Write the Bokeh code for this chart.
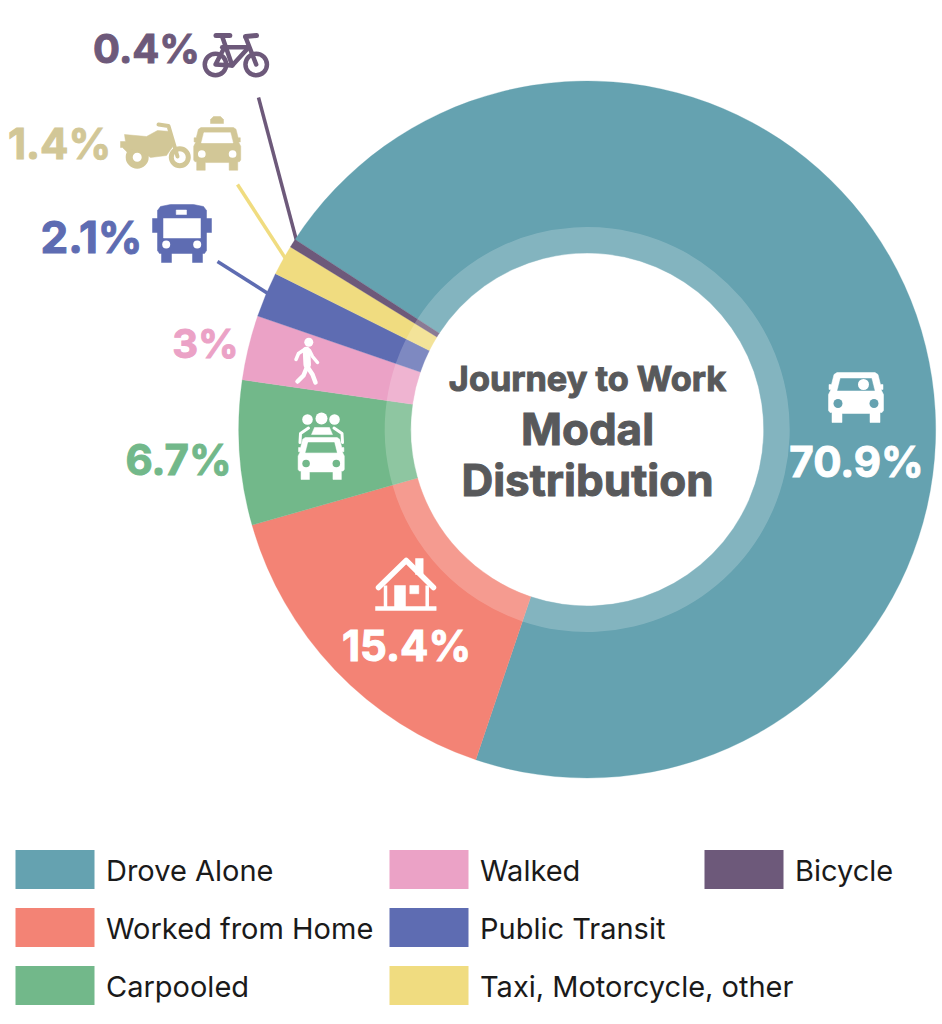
from bokeh.plotting import figure
from bokeh.models import Range1d, ColumnDataSource
from bokeh.core.properties import value
from bokeh.embed import file_html
from bokeh.resources import INLINE
import math

categories = ["Drove Alone", "Worked from Home", "Carpooled", "Walked", "Public Transit", "Taxi, Motorcycle, other", "Bicycle"]
shares = [70.9, 15.4, 6.7, 3.0, 2.1, 1.4, 0.4]
share_labels = ["70.9%", "15.4%", "6.7%", "3%", "2.1%", "1.4%", "0.4%"]
colors = ["#65A2B0", "#F38375", "#72B88A", "#EBA2C6", "#5E6CB2", "#F0DC80", "#6D597A"]
label_colors = ["#FFFFFF", "#FFFFFF", "#72B88A", "#EBA2C6", "#5E6CB2", "#D2C797", "#6D597A"]
title_lines = ["Journey to Work", "Modal", "Distribution"]

W, H = 942, 1024
p = figure(width=W, height=H, output_backend="svg", toolbar_location=None,
           x_range=Range1d(0, W), y_range=Range1d(0, H), min_border=0, outline_line_color=None)
p.axis.visible = False
p.grid.visible = False
Y = lambda y: H - y

CX, CY, RO, RM, RI = 586.7, 429, 348.5, 202.5, 176.5
START_DEG = 303.4  # clockwise from north
def rad(cw_deg):
    return math.radians(90 - cw_deg)
starts, ends = [], []
acc = START_DEG
for s in shares:
    starts.append(rad(acc))
    acc += s / 100 * 360
    ends.append(rad(acc))
# the published shares add to 99.9: the first slice closes the ring
starts[0] = ends[-1] - 2 * math.pi
src = ColumnDataSource(dict(x=[CX]*7, y=[Y(CY)]*7, s=starts, e=ends, c=colors))

def line(pts, c, w=3.5, cap="round"):
    p.line([a for a, _ in pts], [Y(b) for _, b in pts], line_color=c, line_width=w, line_cap=cap, line_join="round")
def poly(pts, c):
    p.patch([a for a, _ in pts], [Y(b) for _, b in pts], fill_color=c, line_color=c, line_width=0.5)
def circ(x, y, r, c):
    p.circle([x], [Y(y)], radius=r, fill_color=c, line_color=None)
def rect(x0, y0, x1, y1, c):
    poly([(x0, y0), (x1, y0), (x1, y1), (x0, y1)], c)
def ring(x, y, r, w, c):
    p.annulus([x], [Y(y)], inner_radius=r-w, outer_radius=r, fill_color=c, line_color=None)

# leaders
line([(258, 97), (296, 240)], colors[6], 3.5, "butt")
line([(237, 184), (285, 258)], colors[5], 3.5, "butt")
line([(217, 261), (269, 294)], colors[4], 3.5, "butt")

p.annular_wedge("x", "y", inner_radius=RI, outer_radius=RO, start_angle="e", end_angle="s", source=src,
                fill_color="c", line_color="c", line_width=0.3)
p.annular_wedge("x", "y", inner_radius=RI, outer_radius=RM, start_angle="e", end_angle="s", source=src,
                fill_color="#FFFFFF", fill_alpha=0.2, line_color=None)

def car(cx, top, s, fg, bg, window=True):
    body = [(-19,0),(19,0),(22,2),(24.5,12),(27,12),(27,17),(25,17),(27.5,22),(27.5,38),(26,40),(24,40),(24,50),(14,50),
            (14,41),(-14,41),(-14,50),(-24,50),(-24,40),(-26,40),(-27.5,38),(-27.5,22),(-25,17),(-27,17),(-27,12),(-24.5,12),(-22,2)]
    poly([(cx + a*s, top + b*s) for a, b in body], fg)
    if window:
        poly([(cx + a*s, top + b*s) for a, b in [(-15.5,6),(15.5,6),(18.5,18),(-18.5,18)]], bg)
    circ(cx - 18*s, top + 31*s, 4.5*s, bg)
    circ(cx + 18*s, top + 31*s, 4.5*s, bg)

WHITE = "#FFFFFF"
# drove alone
car(855.5, 372, 1.0, WHITE, colors[0])
circ(863, 384, 5.5, WHITE)
# carpool
car(320.7, 437, 0.84, WHITE, colors[2])
circ(307, 419, 5.3, WHITE); circ(321, 418, 6, WHITE); circ(334, 419, 5.3, WHITE)
poly([(311, 434), (314, 427), (329, 427), (332, 434)], WHITE)
line([(299.5, 442), (300, 433), (308, 427.5)], WHITE, 3)
line([(342, 442), (341.5, 433), (333.5, 427.5)], WHITE, 3)
# walker
circ(308.3, 341.7, 4.5, WHITE)
line([(306, 350), (306.7, 364)], WHITE, 7.5)
line([(304, 349), (298, 353), (295.5, 359)], WHITE, 3.5)
line([(309, 350), (312, 356), (317, 362)], WHITE, 3.5)
line([(306.7, 366), (303, 375), (297, 381)], WHITE, 4.5)
line([(306.7, 366), (312, 374), (315, 382)], WHITE, 4.5)
# house
line([(378, 587), (405.7, 560), (433, 587)], WHITE, 5.5)
rect(415, 558, 422.7, 574, WHITE)
line([(385, 585), (385, 607)], WHITE, 3.5, "butt")
line([(426.7, 585), (426.7, 607)], WHITE, 3.5, "butt")
rect(375, 606, 435.7, 610, WHITE)
rect(394, 585, 405, 607, WHITE)
rect(409.3, 585, 418.3, 593.3, WHITE)
# bike
PUR = colors[6]
ring(215, 64, 13, 4.5, PUR)
ring(255.7, 64, 13, 4.5, PUR)
line([(221.7, 36), (231.7, 65)], PUR, 4.5)
line([(221.7, 46.7), (248.3, 46.7)], PUR, 4.5)
line([(248.3, 46.7), (231.7, 65), (215, 64), (224, 46.7)], PUR, 4.5)
line([(245, 36.5), (255.7, 64)], PUR, 4.5)
line([(215.5, 35), (229.3, 35)], PUR, 5)
line([(245, 36), (256, 35)], PUR, 5)
# motorcycle
TAN = label_colors[5]
ring(136.7, 156.7, 11.5, 7, TAN)
ring(179.3, 156.7, 11, 5, TAN)
poly([(124,134),(146,136),(157,130),(170,131),(173,145),(166,155),(150,157),(140,150),(130,149),(127,152),(122,147),(120,147),(120,141),(125,141)], TAN)
line([(158, 124), (168, 125.5), (177, 156)], TAN, 4)
# taxi
car(216.7, 127, 0.855, TAN, WHITE)
poly([(210,123),(210,119),(213,116),(220,116),(223,119),(223,123)], TAN)
# bus
BLU = colors[4]
poly([(157,210),(160,206),(170,204),(193,204),(203,206),(206,210),(206,250),(204,253),(159,253),(157,250)], BLU)
rect(152, 218, 211, 232, BLU)
rect(161, 252, 171, 262, BLU)
rect(192, 252, 202, 262, BLU)
rect(163, 218, 200, 237.5, WHITE)
rect(175.7, 209.5, 186, 214, WHITE)
circ(165.7, 244, 4, WHITE); circ(196.7, 244, 4, WHITE)

def T(x, y, s, size, color, font="Inter", style="bold", align="center", outline=False):
    kw = dict(text_outline_color=color) if outline else {}
    p.text([x], [Y(y)], text=[s], text_font=value(font), text_font_style=style, text_font_size=f"{size}px",
           text_color=color, text_align=align, text_baseline="middle", **kw)

# labels
T(856, 461, share_labels[0], 42, label_colors[0], outline=True)
T(406, 645, share_labels[1], 42, label_colors[1], outline=True)
T(178, 459, share_labels[2], 42, label_colors[2], outline=True)
T(205, 343, share_labels[3], 40, label_colors[3], outline=True)
T(91, 236, share_labels[4], 44, label_colors[4], outline=True)
T(59, 143, share_labels[5], 42, label_colors[5], outline=True)
T(146, 48, share_labels[6], 40, label_colors[6], outline=True)
# title
T(587, 378, title_lines[0], 34.3, "#58595B", outline=True)
T(587, 428, title_lines[1], 44, "#58595B", outline=True)
T(587, 479, title_lines[2], 44, "#58595B", outline=True)

# legend
def legend(x, y, i):
    p.quad(left=[x], right=[x+79], top=[Y(y-19.5)], bottom=[Y(y+19.5)], fill_color=colors[i], line_color=None)
    T(x+90.5, y+1, categories[i], 29, "#1A1A1A", style="normal", align="left")
legend(15, 869, 0); legend(15, 927, 1); legend(15, 985, 2)
legend(389, 869, 3); legend(389, 927, 4); legend(389, 985, 5)
legend(704, 869, 6)

open("out.html", "w").write(file_html(p, INLINE))
